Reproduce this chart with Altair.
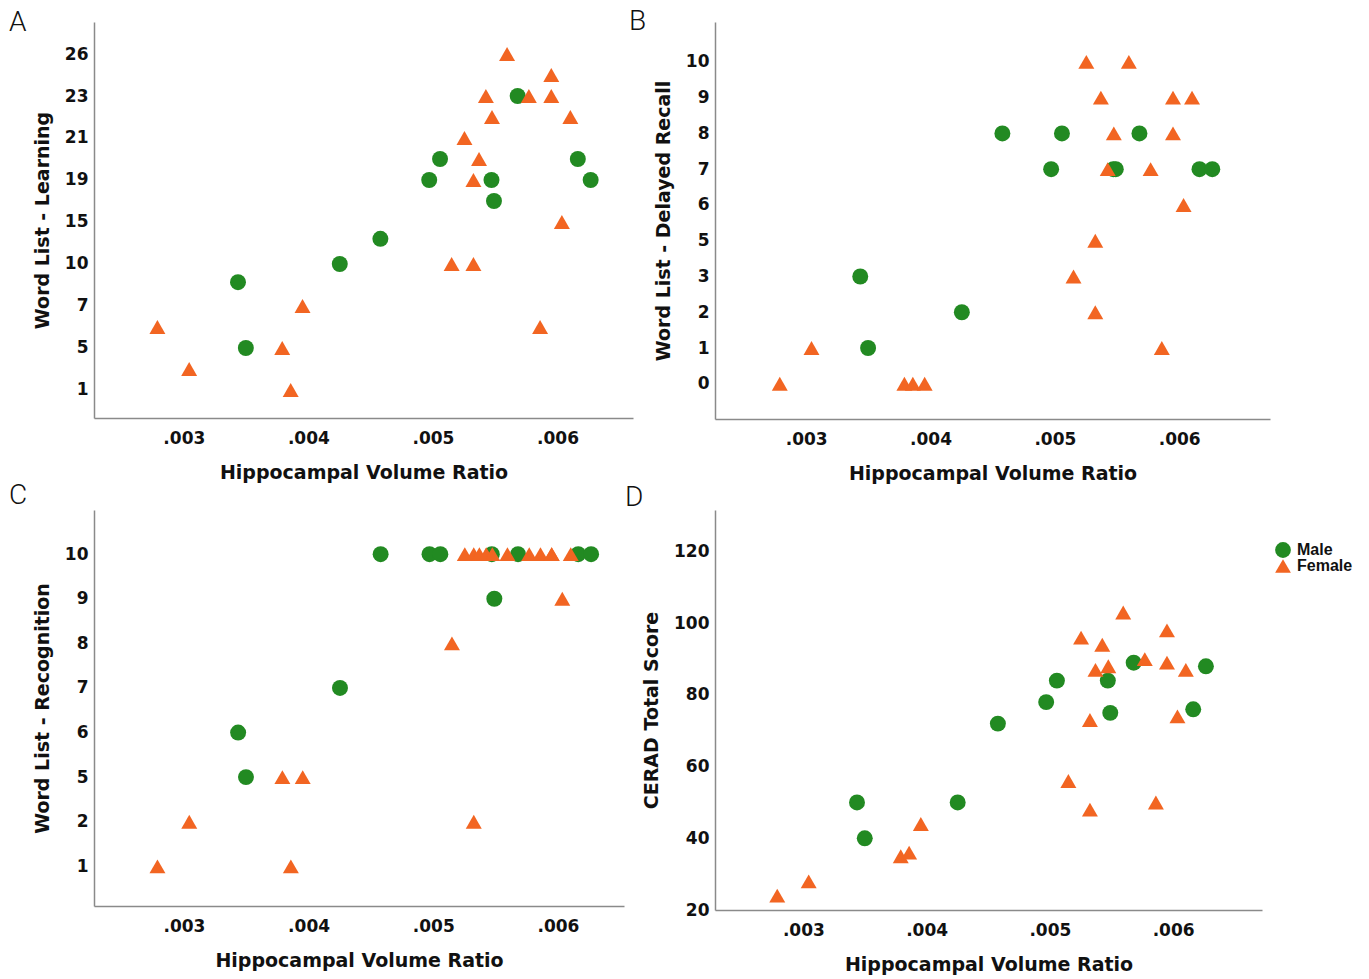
import altair as alt
import pandas as pd

# ---------------- data ----------------
male_hvr = [0.003435, 0.003498, 0.004252, 0.004578, 0.00497, 0.005057, 0.00547, 0.00549, 0.00568, 0.006163, 0.006266]
male_learning = [8.7, 5, 10, 13, 19, 20, 19, 17, 23, 20, 19]
male_recall = [3, 1, 2, 8, 7, 8, 7, 7, 8, 7, 7]
male_recognition = [6, 5, 7, 10, 10, 10, 10, 9, 10, 10, 10]
male_cerad = [50, 40, 50, 72, 78, 84, 84, 75, 89, 76, 88]

female_hvr = [0.002788, 0.003043, 0.00379, 0.003858, 0.003953, 0.00515, 0.005253, 0.005325, 0.005325,
              0.00537, 0.005425, 0.005474, 0.005595, 0.00577, 0.00586, 0.00595, 0.00595, 0.006035, 0.006103]
female_learning = [6, 3, 5, 1, 7, 10, 21, 19, 10, 20, 23, 22, 26, 23, 6, 24.5, 23, 15, 22]
female_recall = [0, 1, 0, 0, 0, 3, 10, 5, 2, 9, 7, 8, 10, 7, 1, 9, 8, 6, 9]
female_recognition = [1, 2, 5, 1, 5, 8, 10, 10, 2, 10, 10, 10, 10, 10, 10, 10, 10, 9, 10]
female_cerad = [24, 28, 35, 36, 44, 56, 96, 73, 48, 87, 94, 88, 103, 90, 50, 98, 89, 74, 87]

sex_labels = ["Male", "Female"]
x_ticks = [0.003, 0.004, 0.005, 0.006]
ticks_learning = [1, 5, 7, 10, 15, 19, 21, 23, 26]
ticks_recall = [0, 1, 2, 3, 5, 6, 7, 8, 9, 10]
ticks_recognition = [1, 2, 5, 6, 7, 8, 9, 10]
ticks_cerad = [20, 40, 60, 80, 100, 120]

GREEN = "#228a22"
ORANGE = "#f26522"

df = pd.DataFrame({
    "hvr": male_hvr + female_hvr,
    "learning": male_learning + female_learning,
    "recall": male_recall + female_recall,
    "recognition": male_recognition + female_recognition,
    "cerad": male_cerad + female_cerad,
    "sex": ["Male"] * len(male_hvr) + ["Female"] * len(female_hvr),
})


def piecewise(ticks, lo_idx, hi_idx, lo_slope, hi_slope, H):
    """Evenly spaced tick labels (as in the reference axis)."""
    dom = [ticks[0] + lo_idx * lo_slope] + ticks + [ticks[-1] + (hi_idx - (len(ticks) - 1)) * hi_slope]
    idx = [lo_idx] + list(range(len(ticks))) + [hi_idx]
    rng = [H * (hi_idx - i) / (hi_idx - lo_idx) for i in idx]
    return dom, rng


FONT = "DejaVu Sans"


def panel(field, ytitle, letter, letter_dx, letter_dy, w, h, xdom, yscale, yticks, show_legend=False):
    legend = None
    if show_legend:
        legend = alt.Legend(title=None, orient="none", legendX=560, legendY=32,
                            labelFont="Liberation Sans", labelFontWeight="bold", labelFontSize=16,
                            labelColor="#111", symbolSize=250, symbolStrokeWidth=0,
                            rowPadding=0, labelOffset=6, padding=0)
    pts = alt.Chart(df).mark_point(filled=True, opacity=1, size=255, strokeWidth=0).encode(
        x=alt.X("hvr:Q", scale=alt.Scale(domain=xdom, nice=False, zero=False),
                axis=alt.Axis(values=x_ticks, labelExpr="substring(format(datum.value, '.3f'), 1)",
                              title="Hippocampal Volume Ratio", labelPadding=12, titlePadding=17)),
        y=alt.Y(f"{field}:Q", scale=yscale,
                axis=alt.Axis(values=yticks, title=ytitle, labelPadding=6, titlePadding=12)),
        color=alt.Color("sex:N", scale=alt.Scale(domain=sex_labels, range=[GREEN, ORANGE]), legend=legend),
        shape=alt.Shape("sex:N", scale=alt.Scale(domain=sex_labels, range=["circle", "triangle-up"]), legend=legend),
    )
    lab = alt.Chart(pd.DataFrame({"t": [letter]})).mark_text(
        align="left", baseline="alphabetic", font="Roboto", fontWeight=300, fontSize=28, color="#111"
    ).encode(text="t:N", x=alt.value(letter_dx), y=alt.value(letter_dy))
    return alt.layer(pts, lab).properties(width=w, height=h)


hA, hB, hC, hD = 396, 397, 396, 400
domA, rngA = piecewise(ticks_learning, -0.667, 8.762, 4, 3, hA)
domB, rngB = piecewise(ticks_recall, -0.985, 10.116, 1, 1, hB)
domC, rngC = piecewise(ticks_recognition, -0.89, 7.99, 1, 1, hC)

pA = panel("learning", "Word List - Learning", "A", -85, 9, 539, hA, [0.002279, 0.006606],
           alt.Scale(domain=domA, range=rngA, nice=False, zero=False), ticks_learning)
pB = panel("recall", "Word List - Delayed Recall", "B", -86, 8, 555, hB, [0.002267, 0.00673],
           alt.Scale(domain=domB, range=rngB, nice=False, zero=False), ticks_recall)
pC = panel("recognition", "Word List - Recognition", "C", -85, -6, 530, hC, [0.002279, 0.00653],
           alt.Scale(domain=domC, range=rngC, nice=False, zero=False), ticks_recognition)
pD = panel("cerad", "CERAD Total Score", "D", -90, -4, 547, hD, [0.002283, 0.006721],
           alt.Scale(domain=[20, 131.6], nice=False, zero=False), ticks_cerad, show_legend=True)

chart = alt.concat(pA, pB, pC, pD, columns=2, spacing={"row": 91, "column": 82},
                   bounds="flush", align="each").resolve_scale(
    color="independent", shape="independent"
).properties(
    padding={"left": 1, "top": 0, "right": 5, "bottom": 5}
).configure_view(stroke=None).configure_axis(
    grid=False, ticks=False, tickSize=0, domainColor="#8a8a8a", domainWidth=1.5,
    labelFont=FONT, labelFontWeight="bold", labelFontSize=17, labelColor="#111",
    titleFont=FONT, titleFontWeight="bold", titleFontSize=19, titleColor="#111",
).configure_legend(symbolSize=250)

chart.save("out.html", embed_options={"renderer": "svg", "actions": False})
